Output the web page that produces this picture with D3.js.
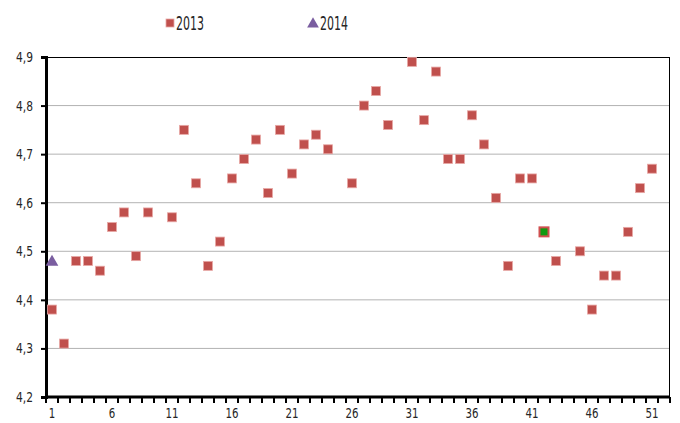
<!DOCTYPE html>
<html lang="en">
<head>
  <meta charset="utf-8">
  <title>Weekly scatter</title>
  <script src="https://cdn.jsdelivr.net/npm/d3@7"></script>
  <style>
    body { margin: 0; background: #fff; }
    text { font-family: "DejaVu Sans", sans-serif; fill: #262626; }
  </style>
</head>
<body>
<script>
  // weeks 1..52, null = no value
  var weeks = d3.range(1, 53);
  var values2013 = [4.38, 4.31, 4.48, 4.48, 4.46, 4.55, 4.58, 4.49, 4.58, null,
                    4.57, 4.75, 4.64, 4.47, 4.52, 4.65, 4.69, 4.73, 4.62, 4.75,
                    4.66, 4.72, 4.74, 4.71, null, 4.64, 4.80, 4.83, 4.76, null,
                    4.89, 4.77, 4.87, 4.69, 4.69, 4.78, 4.72, 4.61, 4.47, 4.65,
                    4.65, 4.54, 4.48, null, 4.50, 4.38, 4.45, 4.45, 4.54, 4.63,
                    4.67, null];
  var values2014 = [4.48];
  var highlightWeek = 42;
  var yTicks = [4.2, 4.3, 4.4, 4.5, 4.6, 4.7, 4.8, 4.9];
  var xLabels = [1, 6, 11, 16, 21, 26, 31, 36, 41, 46, 51];

  var w = 680, h = 423;
  var mLeft = 46, mRight = 670, mTop = 57, mBottom = 397;

  var svg = d3.select("body").append("svg")
    .attr("width", w)
    .attr("height", h);

  var x = d3.scaleBand().domain(weeks).range([mLeft, mRight]);
  var y = d3.scaleLinear().domain([4.2, 4.9]).range([mBottom, mTop]);

  // gridlines
  svg.selectAll("line.grid")
    .data(yTicks.slice(1, -1))
    .enter().append("line")
    .attr("class", "grid")
    .attr("x1", mLeft).attr("x2", mRight)
    .attr("y1", function(d){ return y(d); })
    .attr("y2", function(d){ return y(d); })
    .attr("stroke", "#b3b3b3")
    .attr("stroke-width", 1);

  // plot border top/right
  svg.append("line").attr("x1", mLeft).attr("x2", mRight).attr("y1", mTop + 0.5).attr("y2", mTop + 0.5)
    .attr("stroke", "#000").attr("stroke-width", 1);
  svg.append("line").attr("x1", mRight - 0.5).attr("x2", mRight - 0.5).attr("y1", mTop).attr("y2", mBottom)
    .attr("stroke", "#000").attr("stroke-width", 1);

  // y axis
  var yAxis = d3.axisLeft(y)
    .tickValues(yTicks)
    .tickSize(5)
    .tickPadding(8)
    .tickFormat(function(d){ return d3.format(".1f")(d).replace(".", ","); });
  var gy = svg.append("g").attr("transform", "translate(" + mLeft + ",0)").call(yAxis);
  gy.select(".domain").attr("stroke-width", 3);
  gy.selectAll(".tick line").attr("stroke-width", 2);
  gy.selectAll("text")
    .style("font-size", "14px")
    .attr("font-family", null)
    .attr("fill", "#262626")
    .attr("textLength", 17)
    .attr("lengthAdjust", "spacingAndGlyphs");

  // x axis: tick marks on category boundaries, labels at centres
  var boundaries = d3.range(0, 53);
  var gx = svg.append("g").attr("transform", "translate(0," + mBottom + ")");
  gx.append("line").attr("x1", mLeft - 1).attr("x2", mRight).attr("y1", 0).attr("y2", 0)
    .attr("stroke", "#000").attr("stroke-width", 3);
  gx.selectAll("line.tk")
    .data(boundaries)
    .enter().append("line")
    .attr("class", "tk")
    .attr("x1", function(d){ return mLeft + d * x.step(); })
    .attr("x2", function(d){ return mLeft + d * x.step(); })
    .attr("y1", 0).attr("y2", 6)
    .attr("stroke", "#000").attr("stroke-width", 2);
  gx.selectAll("text")
    .data(xLabels)
    .enter().append("text")
    .attr("x", function(d){ return x(d) + x.bandwidth() / 2; })
    .attr("y", 21)
    .attr("text-anchor", "middle")
    .style("font-size", "14px")
    .attr("textLength", function(d){ return String(d).length * 6.5; })
    .attr("lengthAdjust", "spacingAndGlyphs")
    .text(function(d){ return d; });

  // 2013 squares
  var pts = weeks.map(function(wk, i){ return { week: wk, v: values2013[i] }; })
    .filter(function(d){ return d.v !== null; });
  var sq = 9;
  svg.selectAll("rect.s2013")
    .data(pts)
    .enter().append("rect")
    .attr("class", "s2013")
    .attr("x", function(d){ return x(d.week) + x.bandwidth() / 2 - sq / 2; })
    .attr("y", function(d){ return y(d.v) - sq / 2; })
    .attr("width", sq).attr("height", sq)
    .attr("fill", function(d){ return d.week === highlightWeek ? "#109a10" : "#c0504d"; })
    .attr("stroke", function(d){ return d.week === highlightWeek ? "#d05050" : "#e8a8a6"; })
    .attr("stroke-width", function(d){ return d.week === highlightWeek ? 2 : 0.8; });

  // 2014 triangles
  var tri = d3.symbol().type(d3.symbolTriangle).size(70);
  svg.selectAll("path.s2014")
    .data(values2014)
    .enter().append("path")
    .attr("class", "s2014")
    .attr("d", tri)
    .attr("transform", function(d, i){ return "translate(" + (x(weeks[i]) + x.bandwidth() / 2) + "," + (y(d) + 1) + ")"; })
    .attr("fill", "#7a5ea0");

  // legend
  var lg = svg.append("g");
  lg.append("rect").attr("x", 166).attr("y", 19).attr("width", 8).attr("height", 8)
    .attr("fill", "#c0504d").attr("stroke", "#e8a8a6").attr("stroke-width", 0.8);
  lg.append("text").attr("x", 176).attr("y", 30).style("font-size", "19px")
    .attr("textLength", 28).attr("lengthAdjust", "spacingAndGlyphs").text("2013");
  lg.append("path").attr("d", d3.symbol().type(d3.symbolTriangle).size(60))
    .attr("transform", "translate(313,24)").attr("fill", "#7a5ea0");
  lg.append("text").attr("x", 320).attr("y", 30).style("font-size", "19px")
    .attr("textLength", 28).attr("lengthAdjust", "spacingAndGlyphs").text("2014");
</script>
</body>
</html>
